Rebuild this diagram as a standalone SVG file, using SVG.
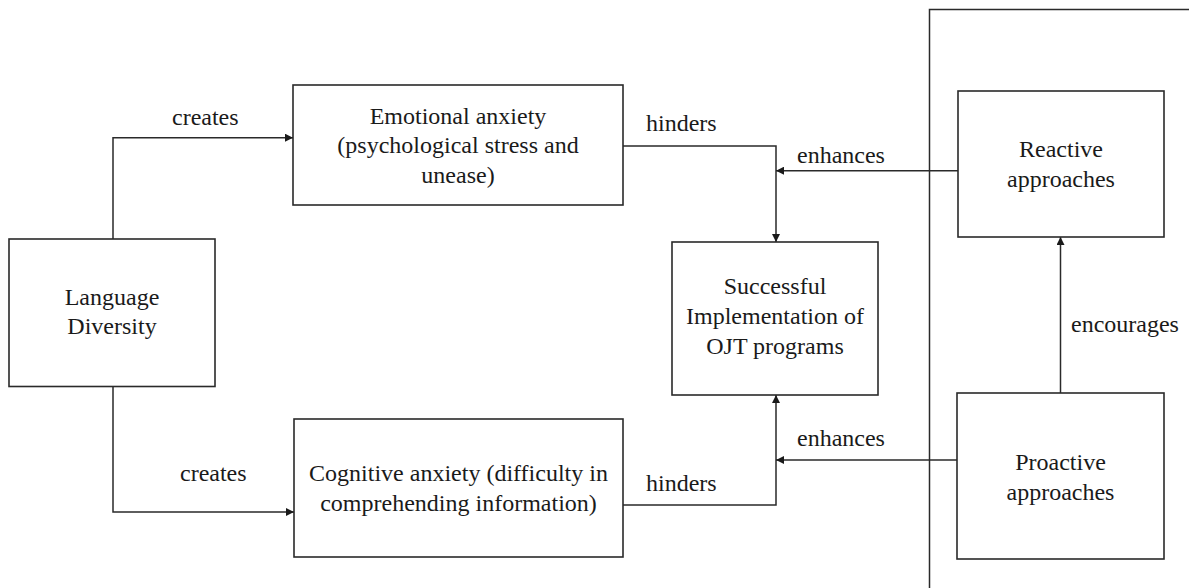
<svg xmlns="http://www.w3.org/2000/svg" width="1189" height="588" viewBox="0 0 1189 588">
<defs>
<style>
.box{fill:#fff;stroke:#2a2a2a;stroke-width:1.6}
.ln{fill:none;stroke:#2a2a2a;stroke-width:1.5}
text{font-family:"Liberation Serif","Times New Roman",serif;font-size:24px;fill:#1a1a1a}
.c{text-anchor:middle}
</style>
<marker id="ah" viewBox="0 0 10 10" refX="10" refY="5" markerWidth="8" markerHeight="8" markerUnits="userSpaceOnUse" orient="auto">
<path d="M0,0 L10,5 L0,10 z" fill="#1a1a1a"/>
</marker>
</defs>
<rect width="1189" height="588" fill="#fff"/>
<path class="ln" d="M929.5,588 V9.5 H1189"/>
<g id="connectors">
<path class="ln" d="M113,239 V137.7 H293" marker-end="url(#ah)"/>
<path class="ln" d="M113,386.5 V512 H294" marker-end="url(#ah)"/>
<path class="ln" d="M623,146 H776 V242" marker-end="url(#ah)"/>
<path class="ln" d="M958,170.7 H776" marker-end="url(#ah)"/>
<path class="ln" d="M623,505 H776 V395" marker-end="url(#ah)"/>
<path class="ln" d="M957,460 H776" marker-end="url(#ah)"/>
<path class="ln" d="M1060.5,393 V237" marker-end="url(#ah)"/>
<text x="172" y="125">creates</text>
<text x="180" y="481">creates</text>
<text x="646" y="131">hinders</text>
<text x="797" y="163">enhances</text>
<text x="797" y="446">enhances</text>
<text x="646" y="491">hinders</text>
<text x="1071" y="332">encourages</text>
</g>
<g id="language">
<rect class="box" x="9" y="239" width="206" height="147.5"/>
<text class="c" x="112" y="305">Language</text>
<text class="c" x="112" y="334">Diversity</text>
</g>
<g id="emotional">
<rect class="box" x="293" y="85" width="330" height="120"/>
<text class="c" x="458" y="124">Emotional anxiety</text>
<text class="c" x="458" y="153">(psychological stress and</text>
<text class="c" x="458" y="183">unease)</text>
</g>
<g id="cognitive">
<rect class="box" x="294" y="419" width="329" height="138"/>
<text class="c" x="458.5" y="481">Cognitive anxiety (difficulty in</text>
<text class="c" x="458.5" y="511">comprehending information)</text>
</g>
<g id="success">
<rect class="box" x="672" y="242" width="206" height="153"/>
<text class="c" x="775" y="294">Successful</text>
<text class="c" x="775" y="324">Implementation of</text>
<text class="c" x="775" y="354">OJT programs</text>
</g>
<g id="reactive">
<rect class="box" x="958" y="91" width="206" height="146"/>
<text class="c" x="1061" y="157">Reactive</text>
<text class="c" x="1061" y="187">approaches</text>
</g>
<g id="proactive">
<rect class="box" x="957" y="393" width="207" height="166"/>
<text class="c" x="1060.5" y="470">Proactive</text>
<text class="c" x="1060.5" y="500">approaches</text>
</g>
</svg>
